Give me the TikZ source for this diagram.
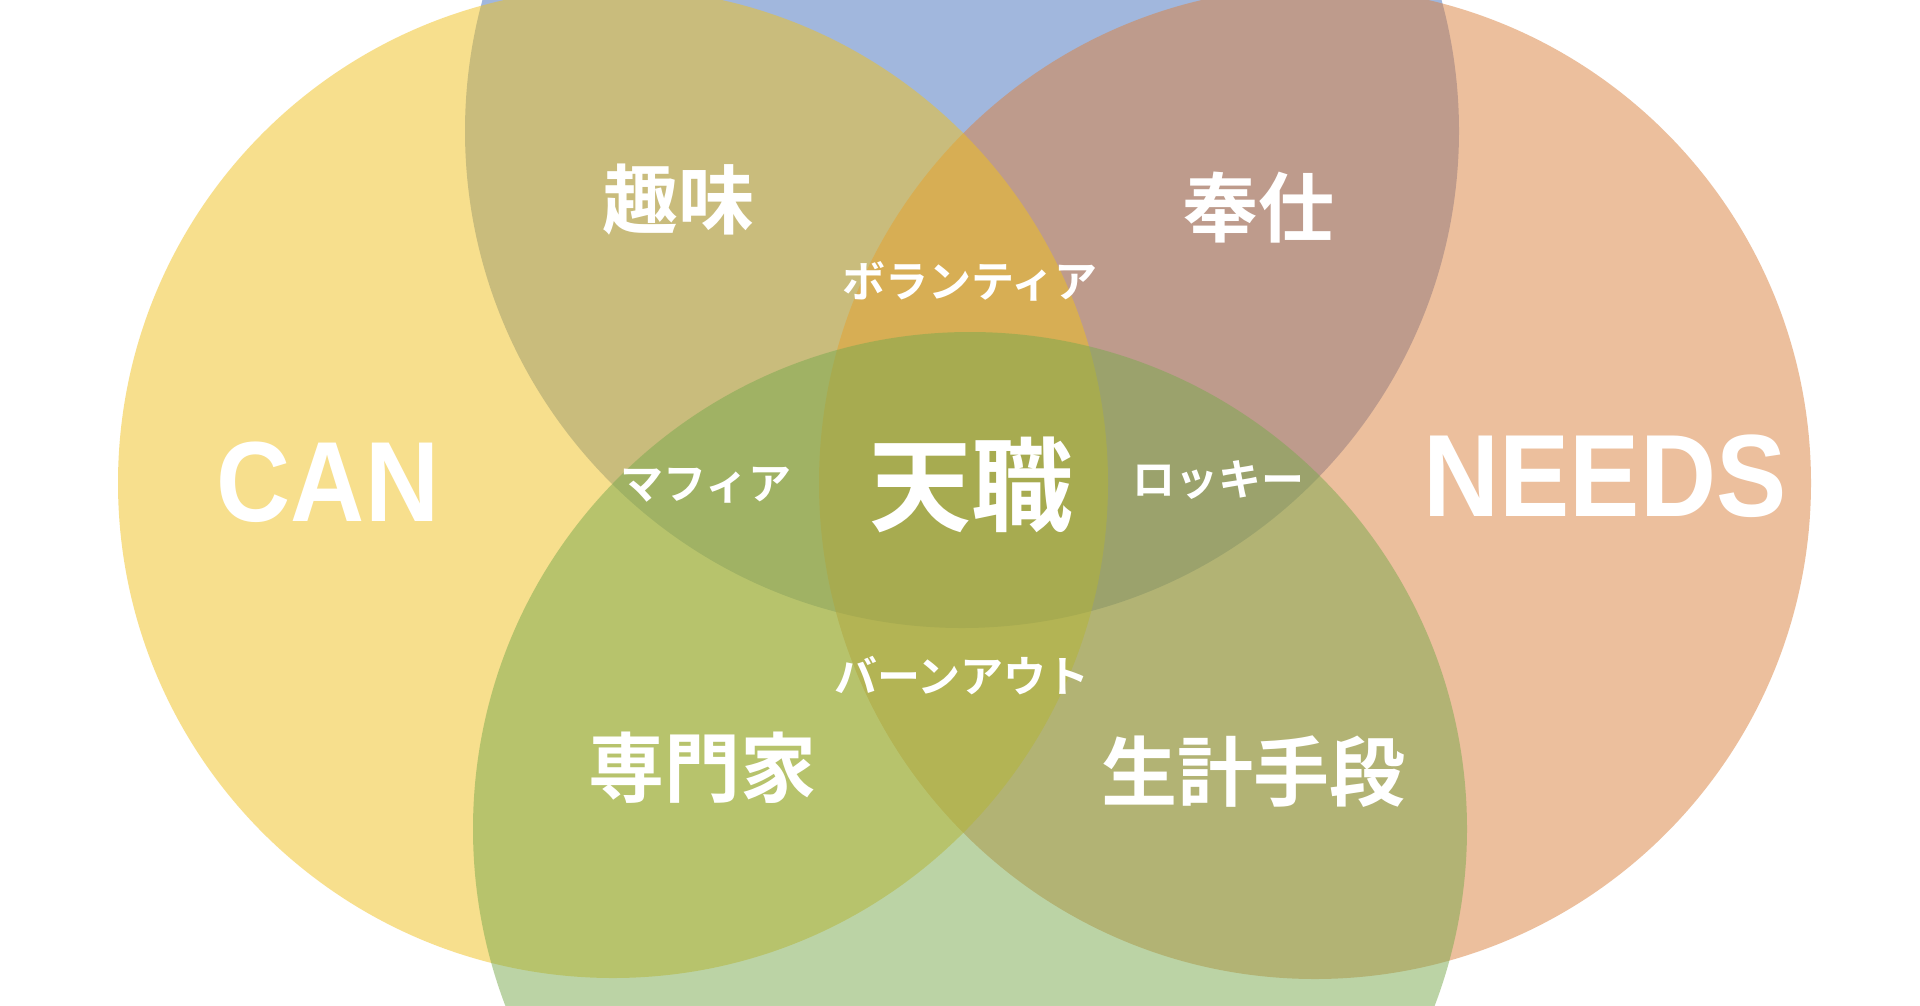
\documentclass[tikz,border=0pt]{standalone}
\usepackage{fontspec}
\usepackage{xcolor}
\usepackage{tikz}
\newfontfamily\jpfont{Noto Sans CJK JP Bold}
\newfontfamily\latinfont{Liberation Sans}
\definecolor{setblue}{RGB}{69,113,189}
\definecolor{setorange}{RGB}{219,129,61}
\definecolor{setyellow}{RGB}{241,193,29}
\definecolor{setgreen}{RGB}{121,169,77}

\begin{document}
\begin{tikzpicture}[x=1pt, y=-1pt,
  every node/.style={text=white, inner sep=0pt},
  venn/.style={fill opacity=0.5},
  axis/.style={font=\latinfont\bfseries\fontsize{#1}{#1}\selectfont, xscale=0.9},
  pair/.style={font=\jpfont\fontsize{76}{80}\selectfont},
  triple/.style={font=\jpfont\fontsize{43}{46}\selectfont},
  core/.style={font=\jpfont\fontsize{102}{106}\selectfont}]
\useasboundingbox (0,0) rectangle (1920,1005);
\clip (0,0) rectangle (1920,1005);
\fill[white] (0,0) rectangle (1920,1005);

% Circles
\fill[venn, setblue] (962,131) circle [radius=497pt];
\fill[venn, setorange] (1315,483) circle [radius=496pt];
\fill[venn, setyellow] (613,483) circle [radius=495pt];
\fill[venn, setgreen] (970,829) circle [radius=497pt];

% Labels
\node[axis=114] (can) at (328,482) {CAN};
\node[axis=117] (needs) at (1605,476) {NEEDS};
\node[pair] (hobby) at (678,200) {趣味};
\node[pair] (service) at (1258,208) {奉仕};
\node[pair] (expert) at (702,768) {専門家};
\node[pair] (living) at (1253,772) {生計手段};
\node[triple] (volunteer) at (970,281) {ボランティア};
\node[triple] (mafia) at (706,485) {マフィア};
\node[triple] (rocky) at (1218,480) {ロッキー};
\node[triple] (burnout) at (962,676) {バーンアウト};
\node[core] (calling) at (971,485) {天職};
\end{tikzpicture}
\end{document}
